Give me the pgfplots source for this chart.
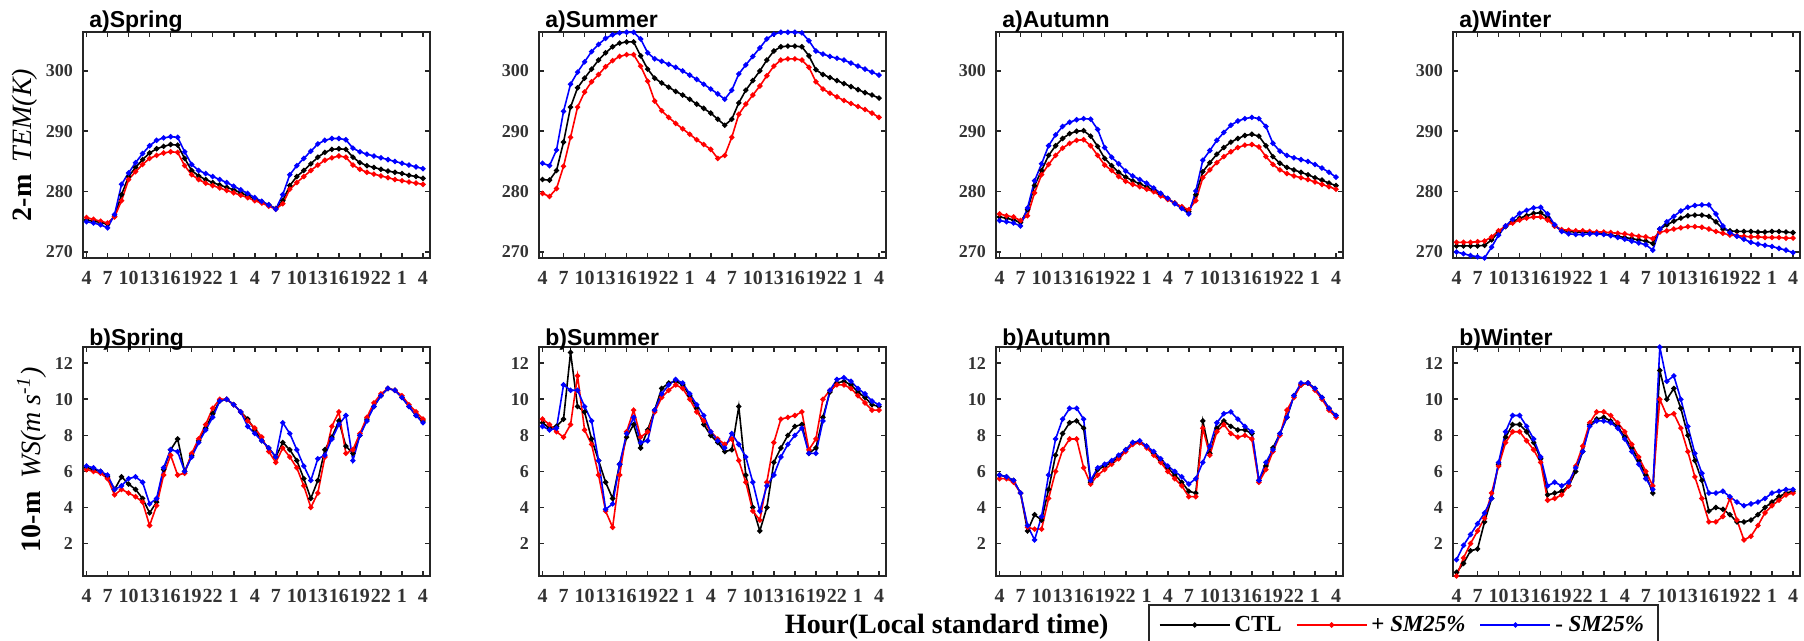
\documentclass[border=0pt]{standalone}
\usepackage{fontspec}
\setmainfont{Liberation Serif}
\newfontfamily\arialfont{Liberation Sans}
\usepackage{pgfplots}
\usepackage{pgfplotstable}
\pgfplotsset{compat=1.18}

% ---------- 2-m temperature ----------
\pgfplotstableread{
h k r b
0 275.3 275.7 275.0
1 275.1 275.4 274.8
2 274.9 275.1 274.5
3 274.6 274.8 274.0
4 275.9 275.8 276.2
5 279.5 278.5 281.2
6 282.5 282.0 283.1
7 284.0 283.3 284.8
8 285.3 284.5 286.3
9 286.4 285.5 287.6
10 287.1 286.0 288.5
11 287.5 286.4 288.9
12 287.8 286.6 289.1
13 287.7 286.5 289.0
14 285.5 284.3 286.6
15 283.5 282.8 284.5
16 282.6 282.0 283.5
17 282.0 281.4 283.0
18 281.5 281.0 282.5
19 281.1 280.6 282.0
20 280.7 280.2 281.5
21 280.3 279.8 280.9
22 279.8 279.4 280.3
23 279.3 279.0 279.7
24 278.8 278.5 279.0
25 278.3 278.1 278.4
26 277.8 277.6 277.8
27 277.2 277.1 277.1
28 278.5 278.0 279.5
29 281.0 280.4 282.8
30 282.5 281.5 284.3
31 283.5 282.5 285.5
32 284.6 283.5 286.7
33 285.7 284.4 287.9
34 286.5 285.2 288.5
35 287.0 285.6 288.8
36 287.1 285.9 288.8
37 287.0 285.7 288.6
38 285.7 284.4 287.2
39 284.8 283.7 286.6
40 284.3 283.2 286.2
41 284.0 282.9 285.9
42 283.7 282.6 285.6
43 283.4 282.3 285.3
44 283.2 282.0 285.0
45 283.0 281.8 284.7
46 282.7 281.6 284.4
47 282.5 281.4 284.1
48 282.2 281.2 283.8
}\TSspring

\pgfplotstableread{
h k r b
0 282.0 279.7 284.7
1 281.9 279.2 284.3
2 283.5 280.5 286.9
3 288.2 284.2 293.3
4 294.0 289.0 297.8
5 297.2 294.0 299.8
6 298.8 296.5 301.5
7 300.3 298.2 303.2
8 301.8 299.4 304.4
9 303.0 300.7 305.4
10 304.0 301.7 306.0
11 304.6 302.4 306.3
12 304.8 302.7 306.4
13 304.8 302.7 306.4
14 302.5 300.8 305.3
15 300.3 298.3 303.0
16 298.8 295.0 302.0
17 298.0 293.4 301.6
18 297.3 292.3 301.1
19 296.6 291.3 300.6
20 296.0 290.4 300.0
21 295.3 289.5 299.3
22 294.5 288.6 298.6
23 293.8 287.8 297.8
24 293.0 287.0 297.0
25 292.0 285.5 296.2
26 291.0 286.0 295.3
27 292.0 289.0 296.8
28 294.7 292.8 299.5
29 296.8 294.5 301.0
30 298.4 296.0 302.4
31 300.0 297.5 303.8
32 301.8 299.2 305.3
33 303.3 300.8 306.1
34 304.0 301.8 306.4
35 304.1 302.0 306.4
36 304.1 302.0 306.4
37 304.0 301.8 306.3
38 302.5 300.6 305.0
39 300.2 298.2 303.3
40 299.4 297.0 302.8
41 298.9 296.3 302.4
42 298.4 295.7 302.1
43 297.9 295.1 301.8
44 297.4 294.6 301.3
45 296.9 294.1 300.8
46 296.4 293.6 300.3
47 296.0 293.0 299.8
48 295.5 292.3 299.3
}\TSsummer

\pgfplotstableread{
h k r b
0 275.8 276.3 275.2
1 275.6 276.0 275.0
2 275.3 275.8 274.8
3 274.9 275.2 274.3
4 277.0 276.0 277.3
5 281.0 279.8 281.8
6 283.5 282.8 284.6
7 286.0 284.5 287.6
8 287.6 286.0 289.4
9 288.8 287.2 290.8
10 289.6 288.0 291.5
11 290.0 288.5 291.9
12 290.1 288.6 292.1
13 289.2 287.6 292.0
14 287.5 286.0 290.3
15 285.5 284.4 287.3
16 284.3 283.5 285.7
17 283.2 282.5 284.6
18 282.4 281.7 283.4
19 281.8 281.2 282.6
20 281.3 280.8 282.0
21 280.8 280.4 281.4
22 280.2 280.0 280.6
23 279.5 279.3 279.7
24 278.8 278.7 278.9
25 278.1 278.1 278.0
26 277.4 277.5 277.2
27 276.7 277.0 276.3
28 279.5 278.5 280.1
29 283.3 282.3 285.2
30 284.8 283.6 286.8
31 286.2 284.8 288.5
32 287.3 285.8 289.8
33 288.2 286.6 291.0
34 288.8 287.3 291.7
35 289.3 287.7 292.1
36 289.5 287.8 292.3
37 289.2 287.4 292.1
38 287.6 285.8 290.8
39 285.8 284.5 288.0
40 284.7 283.6 286.7
41 284.0 283.0 286.0
42 283.6 282.6 285.6
43 283.2 282.3 285.3
44 282.8 282.0 285.0
45 282.3 281.6 284.5
46 281.9 281.2 283.9
47 281.4 280.8 283.2
48 281.0 280.4 282.4
}\TSautumn

\pgfplotstableread{
h k r b
0 271.0 271.6 270.0
1 271.0 271.6 269.7
2 271.0 271.6 269.4
3 271.0 271.7 269.2
4 271.1 271.8 269.0
5 272.0 272.5 270.8
6 273.3 273.5 272.8
7 274.2 274.3 274.3
8 275.0 274.8 275.4
9 275.6 275.3 276.4
10 276.0 275.6 276.9
11 276.4 275.8 277.3
12 276.5 275.8 277.4
13 275.7 275.3 276.3
14 274.3 274.3 274.5
15 273.6 273.7 273.4
16 273.4 273.6 273.0
17 273.3 273.5 272.9
18 273.3 273.5 272.9
19 273.2 273.4 273.0
20 273.1 273.3 273.0
21 273.0 273.3 272.9
22 272.8 273.2 272.7
23 272.6 273.1 272.4
24 272.4 273.0 272.1
25 272.2 272.8 271.8
26 272.0 272.6 271.5
27 271.8 272.5 271.2
28 271.4 272.2 270.3
29 273.8 273.3 273.8
30 274.5 273.5 275.0
31 275.1 273.8 275.9
32 275.6 274.0 276.8
33 276.0 274.2 277.4
34 276.1 274.2 277.7
35 276.1 274.1 277.8
36 275.9 273.8 277.8
37 275.0 273.4 276.3
38 273.8 273.1 274.3
39 273.5 272.8 273.2
40 273.4 272.7 272.6
41 273.4 272.6 272.1
42 273.4 272.5 271.6
43 273.3 272.5 271.3
44 273.3 272.4 271.1
45 273.4 272.4 270.9
46 273.4 272.4 270.6
47 273.3 272.3 270.3
48 273.2 272.3 269.9
}\TSwinter

% ---------- 10-m wind speed ----------
\pgfplotstableread{
h k r b
0 6.2 6.1 6.3
1 6.1 6.0 6.2
2 6.0 5.9 6.0
3 5.7 5.6 5.8
4 5.0 4.7 5.0
5 5.7 5.0 5.2
6 5.3 4.8 5.6
7 5.0 4.6 5.7
8 4.5 4.3 5.4
9 3.7 3.0 4.2
10 4.3 4.1 4.5
11 6.1 5.8 6.2
12 7.2 6.9 7.2
13 7.8 5.8 7.1
14 6.0 5.9 6.0
15 6.9 7.0 6.8
16 7.7 7.8 7.6
17 8.4 8.6 8.3
18 9.2 9.5 9.0
19 9.9 10.0 9.9
20 10.0 10.0 10.0
21 9.7 9.7 9.7
22 9.3 9.3 9.3
23 8.9 8.8 8.5
24 8.3 8.4 8.1
25 7.7 7.9 7.7
26 7.3 7.1 7.3
27 6.8 6.5 6.8
28 7.6 7.3 8.7
29 7.2 6.8 8.1
30 6.6 6.2 7.2
31 5.6 5.2 6.3
32 4.5 4.0 5.5
33 5.5 4.8 6.7
34 7.2 6.8 6.9
35 7.9 8.5 7.8
36 8.8 9.3 8.6
37 7.4 7.0 9.1
38 7.0 7.2 6.6
39 8.0 8.1 8.0
40 8.9 9.0 8.8
41 9.6 9.8 9.6
42 10.2 10.3 10.2
43 10.6 10.6 10.6
44 10.5 10.5 10.5
45 10.1 10.2 10.1
46 9.6 9.7 9.6
47 9.1 9.3 9.1
48 8.8 8.9 8.7
}\WSspring

\pgfplotstableread{
h k r b
0 8.7 8.9 8.5
1 8.4 8.6 8.3
2 8.5 8.2 8.4
3 8.9 7.9 10.8
4 12.6 8.6 10.5
5 9.6 11.3 10.5
6 9.3 8.3 9.6
7 7.8 7.5 8.8
8 6.6 5.8 6.6
9 5.4 3.8 3.9
10 4.5 2.9 4.2
11 6.4 5.8 6.4
12 7.9 8.2 8.1
13 8.6 9.4 9.0
14 7.3 7.9 7.6
15 8.3 8.2 7.7
16 9.4 9.3 9.4
17 10.6 10.1 10.3
18 10.9 10.5 10.8
19 11.0 10.8 11.1
20 10.8 10.6 10.9
21 10.2 10.0 10.3
22 9.5 9.3 9.7
23 8.6 8.8 9.1
24 8.0 8.2 8.2
25 7.6 7.8 7.7
26 7.1 7.5 7.3
27 7.2 7.8 8.1
28 9.6 6.6 7.5
29 5.8 5.4 6.8
30 4.0 3.8 5.4
31 2.7 3.3 3.8
32 4.0 5.4 5.2
33 6.5 7.6 5.8
34 7.3 8.9 6.8
35 8.0 9.0 7.5
36 8.5 9.1 8.0
37 8.6 9.3 8.4
38 7.0 7.2 7.0
39 7.3 7.8 7.0
40 9.0 10.0 8.8
41 10.4 10.5 10.5
42 10.9 10.8 11.1
43 11.0 10.8 11.2
44 10.8 10.6 11.0
45 10.4 10.2 10.6
46 10.1 9.8 10.3
47 9.7 9.4 9.9
48 9.6 9.4 9.7
}\WSsummer

\pgfplotstableread{
h k r b
0 5.8 5.6 5.8
1 5.7 5.6 5.7
2 5.5 5.4 5.5
3 4.8 4.8 4.8
4 2.7 2.9 3.0
5 3.6 2.8 2.2
6 3.3 2.8 3.5
7 5.0 4.5 5.8
8 6.9 6.0 7.8
9 8.1 7.2 8.9
10 8.7 7.8 9.5
11 8.8 7.8 9.5
12 8.4 6.2 8.9
13 5.4 5.3 5.5
14 6.1 5.8 6.2
15 6.3 6.1 6.4
16 6.5 6.4 6.6
17 6.8 6.7 6.9
18 7.2 7.1 7.2
19 7.6 7.5 7.6
20 7.6 7.6 7.7
21 7.4 7.3 7.4
22 7.0 6.9 7.1
23 6.6 6.5 6.7
24 6.2 6.0 6.3
25 5.8 5.6 6.0
26 5.4 5.2 5.7
27 4.9 4.6 5.3
28 4.8 4.6 5.6
29 8.8 8.4 6.5
30 7.0 6.9 7.4
31 8.4 8.2 8.7
32 8.8 8.6 9.2
33 8.5 8.1 9.3
34 8.3 7.9 8.9
35 8.3 8.0 8.5
36 8.1 7.8 8.2
37 5.5 5.4 5.5
38 6.3 6.1 6.5
39 7.3 7.1 7.2
40 8.1 8.0 8.1
41 9.0 9.4 9.0
42 10.2 10.1 10.2
43 10.8 10.8 10.9
44 10.9 10.9 10.9
45 10.6 10.5 10.6
46 10.1 10.0 10.1
47 9.5 9.4 9.5
48 9.1 9.0 9.1
}\WSautumn

\pgfplotstableread{
h k r b
0 0.4 0.2 1.1
1 0.9 1.2 1.9
2 1.6 2.0 2.5
3 1.7 2.7 3.1
4 3.2 3.4 3.7
5 4.5 4.8 4.5
6 6.4 6.3 6.5
7 7.9 7.6 8.2
8 8.6 8.2 9.1
9 8.6 8.2 9.1
10 8.2 7.7 8.5
11 7.6 7.2 7.8
12 6.7 6.5 6.8
13 4.7 4.4 5.2
14 4.8 4.5 5.4
15 4.9 4.7 5.2
16 5.2 5.2 5.4
17 6.0 6.3 6.2
18 7.1 7.4 7.1
19 8.6 8.7 8.5
20 8.9 9.3 8.8
21 9.0 9.3 8.8
22 8.8 9.1 8.7
23 8.5 8.7 8.4
24 7.9 8.2 7.8
25 7.3 7.5 7.1
26 6.6 6.8 6.4
27 5.8 6.0 5.6
28 4.8 5.2 5.0
29 11.6 10.0 12.9
30 10.0 9.1 11.0
31 10.6 9.2 11.3
32 9.5 8.4 10.0
33 8.0 7.1 8.5
34 6.6 5.7 7.0
35 5.5 4.5 5.9
36 3.8 3.2 4.8
37 4.0 3.2 4.8
38 3.9 3.5 4.9
39 3.6 4.5 4.6
40 3.2 3.3 4.3
41 3.2 2.2 4.1
42 3.3 2.4 4.2
43 3.6 3.0 4.3
44 4.0 3.7 4.5
45 4.3 4.1 4.8
46 4.6 4.4 4.9
47 4.8 4.7 5.0
48 4.9 4.8 5.0
}\WSwinter

\pgfplotsset{
  panel/.style={
    scale only axis, width=173.5pt,
    xmin=-0.5, xmax=49,
    xtick={0,3,...,48},
    xticklabels={4,7,10,13,16,19,22,1,4,7,10,13,16,19,22,1,4},
    tick align=inside,
    major tick length=2.5pt,
    every tick/.style={black!85, line width=0.8pt},
    axis line style={line width=1.3pt, black!85},
    yticklabel style={font=\bfseries\fontsize{9}{9}\selectfont, text=black!80},
    xticklabel style={font=\bfseries\fontsize{10}{10}\selectfont, text=black!80},
    /pgf/number format/assume math mode=true,
    every axis title/.style={font=\arialfont\bfseries\fontsize{11.5}{11.5}\selectfont,
      at={(axis description cs:0,1)}, anchor=base west, xshift=3pt, yshift=2pt, inner sep=0pt},
    xticklabel shift=3pt,
    yticklabel shift=1.5pt,
    every axis plot/.append style={line width=0.8pt, mark=*, mark size=0.9pt},
    legend image code/.code={\draw[mark repeat=2,mark phase=2,#1] plot coordinates {(0pt,0pt) (17.5pt,0pt) (35pt,0pt)};},
  },
  tsrow/.style={panel, height=113pt, ymin=269, ymax=306.45, ytick={270,280,290,300}},
  wsrow/.style={panel, height=114.5pt, ymin=0.2, ymax=12.9, ytick={2,4,...,12},
    title style={yshift=-1pt}},
}

\newcommand{\threeplots}[1]{%
  \addplot[black, mark options={fill=black}] table[x=h,y=k]{#1};
  \addplot[red, mark options={fill=red}] table[x=h,y=r]{#1};
  \addplot[blue, mark options={fill=blue}] table[x=h,y=b]{#1};
}

\begin{document}
\begin{tikzpicture}
\path[use as bounding box] (0pt,-320.5pt) rectangle (902pt,0pt);

% ----- top row -----
\begin{axis}[tsrow, at={(41.5pt,-129pt)}, anchor=south west, title={a)Spring},
  ylabel={\fontsize{14}{14}\selectfont\textbf{2-m}\hspace{0.45em}\textit{TEM(K)}},
  ylabel style={at={(axis description cs:-0.167,0.5)}, anchor=center}]
\threeplots{\TSspring}
\end{axis}
\begin{axis}[tsrow, at={(269.5pt,-129pt)}, anchor=south west, title={a)Summer}]
\threeplots{\TSsummer}
\end{axis}
\begin{axis}[tsrow, at={(498pt,-129pt)}, anchor=south west, title={a)Autumn}]
\threeplots{\TSautumn}
\end{axis}
\begin{axis}[tsrow, at={(726.5pt,-129pt)}, anchor=south west, title={a)Winter}]
\threeplots{\TSwinter}
\end{axis}

% ----- bottom row -----
\begin{axis}[wsrow, at={(41.5pt,-288pt)}, anchor=south west, title={b)Spring},
  ylabel={\fontsize{14}{14}\selectfont\textbf{10-m}\hspace{0.45em}\textit{WS(m s\textsuperscript{-1})}},
  ylabel style={at={(axis description cs:-0.148,0.507)}, anchor=center}]
\threeplots{\WSspring}
\end{axis}
\begin{axis}[wsrow, at={(269.5pt,-288pt)}, anchor=south west, title={b)Summer},
  xlabel={Hour(Local standard time)},
  xlabel style={at={(axis description cs:1.175,-0.223)}, anchor=center,
    font=\bfseries\fontsize{14}{14}\selectfont}]
\threeplots{\WSsummer}
\end{axis}
\begin{axis}[wsrow, at={(498pt,-288pt)}, anchor=south west, title={b)Autumn}]
\threeplots{\WSautumn}
\end{axis}
\begin{axis}[wsrow, at={(726.5pt,-288pt)}, anchor=south west, title={b)Winter},
  legend columns=3,
  legend style={at={(axis description cs:-0.1427,-0.214)}, anchor=center,
    draw=black!85, line width=1pt,
    font=\bfseries\fontsize{11.5}{11.5}\selectfont,
    /tikz/every even column/.append style={column sep=5pt},
    inner xsep=5pt, inner ysep=3.5pt}]
\threeplots{\WSwinter}
\legend{CTL, + \textit{SM25\%}, - \textit{SM25\%}}
\end{axis}
\end{tikzpicture}
\end{document}
